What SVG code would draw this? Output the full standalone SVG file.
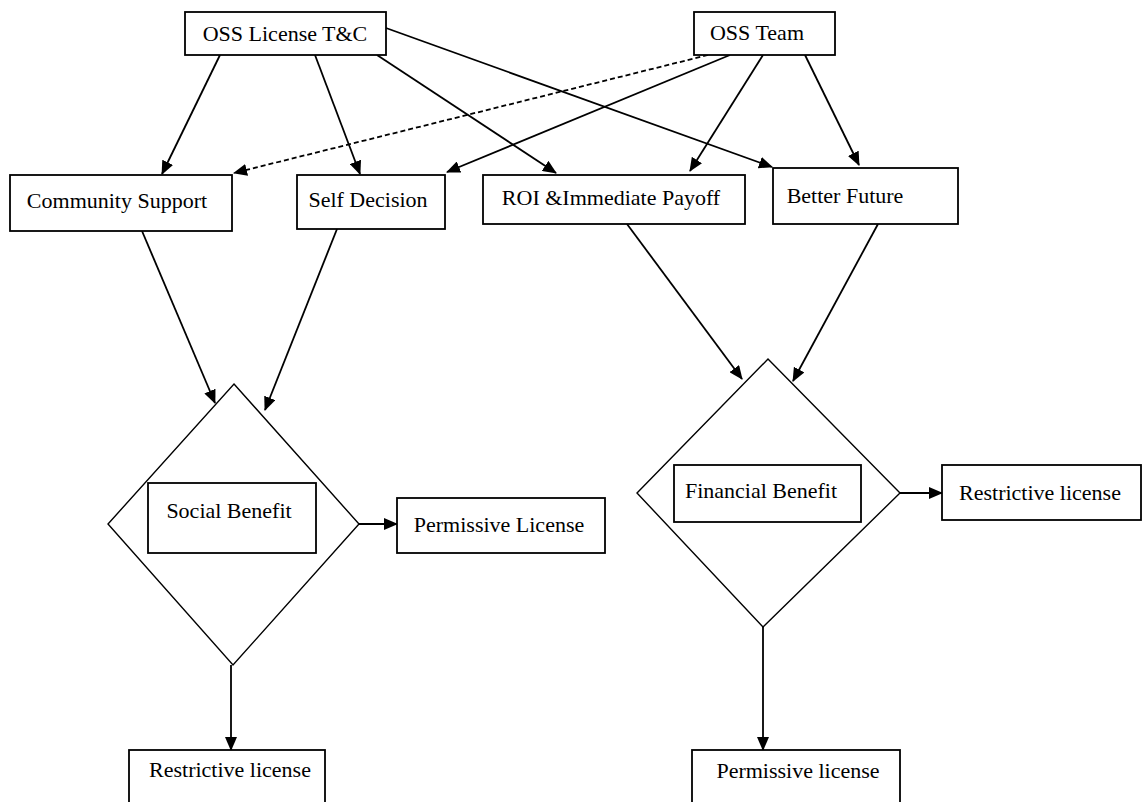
<svg xmlns="http://www.w3.org/2000/svg" width="1144" height="802" viewBox="0 0 1144 802">
  <style>
    .box { fill: #ffffff; stroke: #000000; stroke-width: 1.8; }
    .dia { fill: #ffffff; stroke: #000000; stroke-width: 1.4; }
    .lbl { font-family: "Liberation Serif", "Times New Roman", serif; font-size: 22px; fill: #000000; text-anchor: middle; }
    .edge { fill: none; stroke: #000000; stroke-width: 1.8; marker-end: url(#arrow); }
    .dashed { stroke-dasharray: 5 3; }
  </style>
  <defs>
    <marker id="arrow" markerUnits="userSpaceOnUse" markerWidth="14" markerHeight="12" viewBox="0 0 14 12" refX="13" refY="6" orient="auto">
      <path d="M0,0 L14,6 L0,12 z" fill="#000000"/>
    </marker>
  </defs>
  <rect width="1144" height="802" fill="#ffffff"/>

  <!-- connectors -->
  <g id="connectors">
    <line class="edge" x1="220" y1="55" x2="162" y2="174"/>
    <line class="edge" x1="315" y1="55" x2="360" y2="174"/>
    <line class="edge" x1="377" y1="55" x2="556" y2="173"/>
    <line class="edge" x1="386" y1="28" x2="772" y2="167"/>
    <line class="edge dashed" x1="708" y1="55" x2="234" y2="173"/>
    <line class="edge" x1="730" y1="55" x2="447" y2="172"/>
    <line class="edge" x1="763" y1="55" x2="690" y2="171"/>
    <line class="edge" x1="805" y1="55" x2="859" y2="165"/>
    <line class="edge" x1="142" y1="231" x2="215" y2="403"/>
    <line class="edge" x1="337" y1="229" x2="265" y2="410"/>
    <line class="edge" x1="627" y1="224" x2="742" y2="379"/>
    <line class="edge" x1="878" y1="224" x2="793" y2="381"/>
    <line class="edge" x1="359" y1="524" x2="397" y2="524"/>
    <line class="edge" x1="900" y1="493" x2="942" y2="493"/>
    <line class="edge" x1="231" y1="665" x2="231" y2="750"/>
    <line class="edge" x1="763" y1="627" x2="763" y2="750"/>
  </g>

  <g id="oss-license">
    <rect class="box" x="185" y="12" width="201" height="43"/>
    <text class="lbl" x="285" y="41">OSS License T&amp;C</text>
  </g>
  <g id="oss-team">
    <rect class="box" x="694" y="12" width="141" height="43"/>
    <text class="lbl" x="757" y="40" font-size="20">OSS Team</text>
  </g>
  <g id="community-support">
    <rect class="box" x="10" y="175" width="222" height="56"/>
    <text class="lbl" x="117" y="208">Community Support</text>
  </g>
  <g id="self-decision">
    <rect class="box" x="297" y="175" width="148" height="54"/>
    <text class="lbl" x="368" y="207" font-size="20.5">Self Decision</text>
  </g>
  <g id="roi-payoff">
    <rect class="box" x="483" y="175" width="262" height="49"/>
    <text class="lbl" x="611" y="205">ROI &amp;Immediate Payoff</text>
  </g>
  <g id="better-future">
    <rect class="box" x="773" y="168" width="185" height="56"/>
    <text class="lbl" x="845" y="203" font-size="23">Better Future</text>
  </g>

  <g id="social-benefit">
    <polygon class="dia" points="234,384 359,524 233,665 108,524"/>
    <rect class="box" x="148" y="483" width="168" height="70"/>
    <text class="lbl" x="229" y="518">Social Benefit</text>
  </g>
  <g id="permissive-license">
    <rect class="box" x="397" y="498" width="208" height="55"/>
    <text class="lbl" x="499" y="532">Permissive License</text>
  </g>

  <g id="financial-benefit">
    <polygon class="dia" points="768,359 900,493 763,627 637,493"/>
    <rect class="box" x="674" y="465" width="187" height="57"/>
    <text class="lbl" x="761" y="498" font-size="20.5">Financial Benefit</text>
  </g>
  <g id="restrictive-license-right">
    <rect class="box" x="942" y="465" width="199" height="55"/>
    <text class="lbl" x="1040" y="500">Restrictive license</text>
  </g>

  <g id="restrictive-license-bottom">
    <rect class="box" x="129" y="750" width="196" height="60"/>
    <text class="lbl" x="230" y="777">Restrictive license</text>
  </g>
  <g id="permissive-license-bottom">
    <rect class="box" x="692" y="750" width="208" height="60"/>
    <text class="lbl" x="798" y="778" font-size="23.5">Permissive license</text>
  </g>
</svg>
